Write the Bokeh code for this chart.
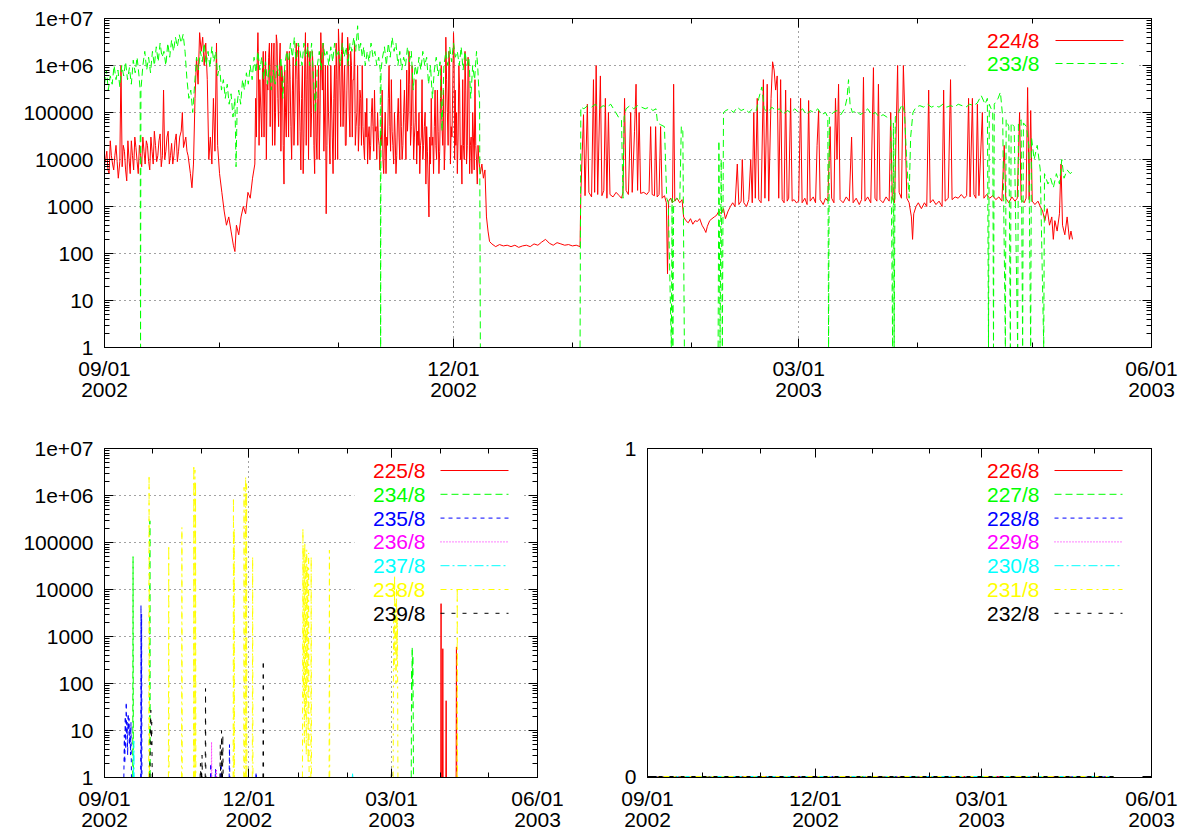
from bokeh.plotting import figure
from bokeh.models import (Range1d, FixedTicker, CustomJSTickFormatter, LinearAxis, LogAxis,
                          Label, Arrow, BoxAnnotation)
from bokeh.layouts import column, row
from bokeh.embed import file_html
from bokeh.resources import INLINE

NaN = float("nan")

# ---------------- axis ticks (days since 2002-09-01) ----------------
tick_days = [0, 91, 181, 273]
tick_labels = ["09/01\n2002", "12/01\n2002", "03/01\n2003", "06/01\n2003"]
month_days = [30, 61, 122, 153, 212, 242]
y_decades = [1, 10, 100, 1000, 10000, 100000, 1000000, 10000000]

# ---------------- top panel: 224/8 and 233/8 ----------------
red_224_main = [
    (0, 8000), (0.6, 15000), (1.2, 5000), (1.8, 12000), (2.4, 6000), (3, 20000), (3.6, 4000), (4.0, 9000),
    (4.3, 1e6), (4.6, 7000), (5.2, 15000), (5.8, 3500), (6.4, 10000), (7, 25000), (7.6, 6000), (8.2, 18000),
    (8.8, 5000), (9.4, 12000), (10, 30000), (10.6, 8000), (11.2, 20000), (11.8, 6000), (12.4, 15000),
    (13, 40000), (13.6, 9000), (14.2, 25000), (14.8, 7000), (15.4, 3e5), (15.7, 10000), (16.3, 30000),
    (16.9, 8000), (17.5, 22000), (18.1, 12000), (18.7, 35000), (19.3, 15000), (20.0, 40000), (20.3, 1e5),
    (20.6, 18000), (21.2, 30000), (21.8, 12000), (22.4, 5000), (22.8, 2500), (23.2, 8000),
    (23.6, 2e5), (24.0, 1.5e6), (24.4, 4e5), (24.8, 5e6), (25.2, 2e6), (25.6, 4e6), (26.0, 1e6), (26.4, 3e6),
    (26.8, 5e5), (27.2, 1e4), (27.6, 30000), (28.0, 8000), (28.4, 2e5), (28.8, 15000), (29.2, 3e6),
    (29.5, 20000), (30, 5000), (30.6, 2000), (31.2, 800), (31.8, 400), (32.4, 600), (33.0, 300), (33.6, 150),
    (34.0, 110), (34.4, 400), (35.0, 250), (35.6, 600), (36.2, 1000), (36.8, 700), (37.4, 2000), (38.0, 1500),
    (38.6, 4000), (39.2, 8000), (39.6, 3e4), (40.0, 5e6), (40.3, 2e4), (40.8, 1e5), (41.2, 8e5), (41.6, 3e4),
    (42.0, 2e6), (42.4, 4e5), (42.8, 1.5e6), (43.2, 5e4), (43.6, 3e6), (44.0, 1e6), (44.4, 2e4), (44.8, 4.5e6),
    (45.2, 2e5), (45.6, 1e6), (46.0, 1.5e4), (46.4, 6e5), (46.8, 3000), (47.2, 1e5), (47.6, 2e6), (48.0, 3e4),
    (48.4, 5e5), (48.8, 1e4), (49.2, 1.5e6), (49.6, 8e4), (50.0, 3e6), (50.4, 2e4), (50.8, 3e5), (51.2, 6000),
    (51.6, 1e6), (52.0, 3e4), (52.4, 5e6), (52.8, 5e5), (53.2, 1e4), (53.6, 2e6), (54.0, 1e5), (54.4, 8e5),
    (54.8, 5000), (55.2, 3e4), (55.6, 2e5), (56.0, 1e4), (56.4, 5e6), (56.8, 3e5), (57.2, 1.5e4), (57.6, 1e6),
    (57.8, 700), (58.0, 2e4), (58.4, 1e5), (58.8, 8000), (59.4, 3e4), (59.8, 2e5), (60.2, 1e4), (60.6, 5e5),
    (61.0, 6e6), (61.4, 3e5), (61.8, 2e6), (62.2, 5e4), (62.6, 1e6), (63.0, 2e4), (63.4, 4e6), (63.8, 1e5),
    (64.2, 2e6), (64.6, 3e4), (65.0, 5e5), (65.4, 2e4), (65.8, 1e5), (66.2, 1.5e4), (66.6, 3e5), (67.0, 2e4),
    (67.4, 5e4), (67.8, 1e4), (68.2, 3e4), (68.6, 8000), (69.0, 5e4), (69.4, 2e4), (69.8, 2e5), (70.2, 1.5e4),
    (70.6, 4e4), (71.0, 1e4), (71.4, 3e4), (71.8, 6000), (72.2, 2e4), (72.6, 1e4), (73.0, 3e4), (73.4, 5000),
    (73.8, 2e4), (74.2, 1e6), (74.6, 1.5e4), (75.0, 4e4), (75.4, 8000), (75.8, 3e4), (76.2, 1.2e4), (76.6, 2e5),
    (77.0, 1e4), (77.4, 5e4), (77.8, 2e4), (78.2, 3e5), (78.6, 1e4), (79.0, 4e4), (79.4, 2e6), (79.8, 2e4),
    (80.2, 1e6), (80.6, 1e4), (81.0, 6e4), (81.4, 8000), (81.8, 2e4), (82.2, 5000), (82.6, 3e4), (83.0, 1e4),
    (83.4, 5e4), (83.8, 3000), (84.2, 1.5e4), (84.6, 600), (85.0, 8000), (85.4, 2e4), (85.8, 5000), (86.2, 3e5),
    (86.6, 1e4), (87.0, 4e4), (87.4, 1.5e4), (87.8, 1e6), (88.2, 2e4), (88.6, 6000), (89.0, 4e6), (89.4, 1e5),
    (89.8, 2e6), (90.2, 8000), (90.6, 3e4), (91.0, 5e6), (91.3, 1e4), (91.6, 2e4), (92.0, 5000), (92.4, 1e6),
    (92.8, 1e4), (93.2, 3000), (93.6, 2e4), (94.0, 2e6), (94.4, 8000), (94.8, 1.5e6), (95.2, 5000), (95.6, 3e4),
    (96.0, 1e5), (96.4, 6000), (96.8, 2e4), (97.2, 3000), (97.6, 1e4), (98.0, 5000), (98.4, 8000), (98.8, 4000),
    (99.2, 6000), (99.6, 600), (100.0, 300), (100.4, 180),
    (101, 160), (102, 140), (103, 155), (104, 145), (105, 150), (106, 140), (107, 150), (108, 135), (109, 145),
    (110, 150), (111, 140), (112, 160), (113, 150), (114, 175), (115, 200), (116, 165), (117, 150), (118, 170),
    (119, 160), (120, 150), (121, 155), (122, 145), (123, 150), (124, 140),
    (124.2, 1800), (124.9, 9e4), (125.3, 1700), (125.9, 1.5e5), (126.3, 2000), (127.0, 1600), (127.5, 5e5),
    (127.8, 2000), (128.2, 1e6), (128.6, 1800), (129.3, 6e5), (129.7, 1700), (130.2, 2200), (130.6, 2e5),
    (131.0, 1500), (131.4, 1e5), (131.8, 1800), (132.6, 1600), (133.4, 2000), (134.2, 1700), (134.8, 1500),
    (135.2, 2000), (135.6, 2e5), (136.0, 2200), (136.6, 1800), (137.2, 1e5), (137.6, 2000), (138.2, 4e4),
    (138.6, 4e5), (139.0, 2200), (139.4, 1e5), (139.8, 1900), (140.6, 2000), (141.4, 1800), (142.0, 2100),
    (142.4, 5e4), (142.8, 1800), (143.4, 1700), (143.7, 5e4), (144.1, 1600), (144.6, 1800), (145.0, 5e4),
    (145.4, 1500), (146.0, 1700), (146.5, 1200), (146.8, 37), (147.1, 1300), (147.6, 1500), (148.1, 1200),
    (148.4, 4e5), (148.7, 1300), (149.3, 1500), (150.0, 1200), (150.6, 1400), (151.0, 600),
    (151.6, 500), (152.2, 450), (152.8, 550), (153.4, 420), (154.0, 500), (154.6, 480), (155.2, 550),
    (155.8, 400), (156.4, 330), (156.8, 280), (157.2, 380), (157.8, 500), (158.4, 550), (159.0, 600),
    (159.6, 650), (160.2, 800), (160.8, 700), (161.4, 900), (161.9, 550), (162.6, 800), (163.2, 1000),
    (163.8, 1200), (164.4, 1000), (165.0, 8000), (165.4, 1100), (166.0, 1300), (166.3, 1e4), (166.7, 1200),
    (167.4, 1000), (168.0, 1400), (168.5, 1e4), (168.9, 1200), (169.3, 1e5), (169.7, 1500), (170.2, 2e5),
    (170.6, 1400), (171.2, 1200), (171.8, 5e5), (172.2, 1500), (172.8, 4e5), (173.2, 1300), (173.8, 2e5),
    (174.2, 1.2e6), (174.6, 8e5), (175.0, 3e5), (175.4, 6e5), (175.8, 1500), (176.3, 5e5), (176.7, 1400),
    (177.2, 1200), (177.6, 3e5), (178.0, 1300), (178.4, 1500), (178.9, 2e5), (179.3, 1300), (179.8, 1400),
    (180.4, 1200), (181.0, 1300), (181.5, 2e5), (181.9, 1200), (182.6, 1500), (183.2, 1100), (183.6, 1.8e5),
    (184.0, 1300), (184.8, 1600), (185.4, 1200), (185.8, 2e4), (186.2, 1.1e5), (186.6, 1400), (187.4, 1100),
    (188.0, 1500), (188.6, 1300), (189.2, 5e4), (189.6, 1500), (190.2, 1200), (190.6, 2e5), (191.0, 1e4),
    (191.4, 4e5), (191.8, 1400), (192.6, 1200), (193.4, 1600), (194.2, 1300), (194.8, 3e4), (195.2, 1200),
    (196.0, 1500), (196.8, 1100), (197.4, 1400), (197.9, 5.6e5), (198.3, 1300), (199.0, 1600), (199.8, 1200),
    (200.5, 9e5), (200.9, 1500), (201.4, 1300), (201.8, 4e5), (202.2, 1400), (203.0, 1200), (203.8, 1600),
    (204.6, 1300), (205.0, 1e5), (205.4, 1500), (206.0, 1200), (206.8, 1e6), (207.2, 2000), (207.8, 1500),
    (208.3, 1e6), (208.7, 8e4), (209.2, 1500), (209.8, 1200), (210.4, 600), (210.7, 200), (211.0, 700),
    (211.6, 1000), (212.2, 1200), (213.0, 900), (213.8, 1200), (214.4, 1000), (214.9, 3e5), (215.3, 1200),
    (216.0, 1400), (216.8, 1100), (217.6, 1300), (218.4, 1000), (218.8, 3e5), (219.2, 1300), (220.0, 1500),
    (220.6, 5e5), (221.0, 1400), (221.8, 1600), (222.6, 1500), (223.4, 1800), (224.2, 1500), (224.8, 1700),
    (225.3, 2e5), (225.7, 1600), (226.3, 2e5), (226.7, 1800), (227.2, 1500), (227.6, 1.5e5), (228.0, 1700),
    (228.9, 1e5), (229.3, 1500), (230.0, 1800), (230.8, 1500), (231.6, 1700), (232.4, 1400), (233.2, 1600),
    (234.0, 1300), (234.6, 2e4), (235.0, 1500), (235.8, 1200), (236.6, 1600), (237.4, 1300), (238.0, 1500),
    (238.6, 1e5), (239.0, 1400), (239.8, 1200), (240.3, 1500), (240.7, 3.4e5), (241.1, 1400), (241.5, 1.1e5),
    (241.9, 1300), (242.6, 1100), (243.4, 1300), (244.0, 1000), (244.6, 800), (245.2, 500), (245.8, 900),
    (246.4, 400), (247.0, 600), (247.4, 200), (247.8, 500), (248.4, 300), (249.0, 700), (249.4, 8000),
    (249.8, 400), (250.4, 250), (251.0, 600), (251.6, 200), (252.0, 300), (252.4, 200),
]

# extra readings of the dense (noisy) stretches of 224/8
red_224_dense = [
    (0.3, 1e4), (0.9, 6000), (1.5, 25000), (2.1, 8000), (2.7, 12000), (3.3, 9000), (4.9, 20000), (5.5, 6000),
    (6.1, 25000), (6.7, 5000), (7.3, 12000), (7.9, 30000), (8.5, 9000), (9.1, 20000), (9.7, 7000),
    (10.3, 15000), (10.9, 25000), (11.5, 9000), (12.1, 30000), (12.7, 8000), (13.3, 20000), (13.9, 12000),
    (14.5, 35000), (15.1, 12000), (16.0, 15000), (16.6, 40000), (17.2, 12000), (17.8, 8000), (18.4, 25000),
    (19.0, 9000), (19.6, 30000), (21.5, 15000),
    (39.4, 2e5), (39.8, 1e6), (40.1, 2e6), (40.5, 5e5), (41.0, 3e4), (41.4, 2e6), (41.8, 5e5), (42.2, 1e4),
    (42.6, 3e5), (43.0, 3e6), (43.4, 1e6), (43.8, 2e4), (44.2, 3e6), (44.6, 1e5), (45.0, 3e6), (45.4, 5e4),
    (45.8, 3e6), (46.2, 1e6), (46.6, 2e4), (47.0, 8e5), (47.4, 3e4), (47.8, 4e5), (48.2, 2e6), (48.6, 5e4),
    (49.0, 3e5), (49.4, 2e4), (49.8, 1e6), (50.2, 5e5), (50.6, 3e6), (51.0, 4e4), (51.4, 2e5), (51.8, 5e3),
    (52.2, 1e6), (52.6, 2e4), (53.0, 3e6), (53.4, 1e6), (53.8, 3e4), (54.2, 2e6), (54.6, 2e4), (55.0, 1e6),
    (55.4, 1e4), (55.8, 1e6), (56.2, 1e5), (56.6, 1e6), (57.0, 3e6), (57.4, 1e5), (58.2, 1e6), (58.6, 3e4),
    (59.0, 1e6), (59.6, 5e3), (60.0, 1e6), (60.4, 3e6), (60.8, 1e4), (61.2, 2e6), (61.6, 5e4), (62.0, 5e6),
    (62.4, 3e5), (62.8, 2e4), (63.2, 3e5), (63.6, 2e6), (64.0, 3e4), (64.4, 1e6), (64.8, 5e5), (65.2, 3e6),
    (65.6, 5e4), (66.0, 1e6), (66.4, 5e4), (66.8, 2e5), (67.2, 1e6), (67.6, 2e4), (68.0, 1e5), (68.4, 2e5),
    (68.8, 3e4), (69.2, 1e4), (69.6, 1e5), (70.0, 5e4), (70.4, 3e5), (70.8, 5e4), (71.2, 1e5), (71.6, 2e4),
    (72.0, 4e4), (72.4, 3e5), (72.8, 5e3), (73.2, 1e5), (73.6, 3e4), (74.0, 2e5), (74.4, 5e4), (74.8, 5e5),
    (75.2, 2e4), (75.6, 1e5), (76.0, 5e3), (76.4, 8e4), (76.8, 3e4), (77.2, 5e5), (77.6, 1e4), (78.0, 1e5),
    (78.4, 6e4), (78.8, 8e5), (79.2, 1e5), (79.6, 4e5), (80.0, 5e4), (80.4, 3e5), (80.8, 3e4), (81.2, 5e5),
    (81.6, 4e4), (82.0, 1e5), (82.4, 2e4), (82.8, 5e5), (83.2, 2e4), (83.6, 1e5), (84.0, 5e4), (84.4, 3e3),
    (84.8, 3e4), (85.2, 2e5), (85.6, 3e4), (86.0, 5e4), (86.4, 2e4), (86.8, 3e5), (87.2, 5e3), (87.6, 2e5),
    (88.0, 5e4), (88.4, 3e5), (88.8, 2e4), (89.2, 5e5), (89.6, 2e4), (90.0, 1e6), (90.4, 5e4), (90.8, 3e5),
    (91.15, 2e6), (91.45, 3e5), (91.8, 1e5), (92.2, 3e4), (92.6, 3e5), (93.0, 2e4), (93.4, 5e5), (93.8, 1e4),
    (94.2, 3e5), (94.6, 2e4), (95.0, 8e5), (95.4, 2e4), (95.8, 5e3), (96.2, 3e4), (96.6, 5e5), (97.0, 1e4),
    (97.4, 2e4),
]

green_233 = [
    (0, 4e5), (0.5, 8e5), (1.0, 3e5), (1.5, 6e5), (2.0, 4e5), (2.5, 1e6), (3.0, 5e5), (3.5, 8e5), (4.0, 3.5e5),
    (4.5, 1e6), (5.0, 6e5), (5.5, 1.2e6), (6.0, 5e5), (6.5, 9e5), (7.0, 4e5), (7.5, 1.3e6), (8.0, 7e5),
    (8.5, 1.5e6), (9.0, 6e5), (9.3, 3e5), (9.4, 1), (9.5, 3e5),
    (10.0, 1e6), (10.5, 2e6), (11.0, 8e5), (11.5, 1.5e6), (12.0, 7e5), (12.5, 2e6), (13.0, 1e6), (13.5, 2.5e6),
    (14.0, 1.2e6), (14.5, 3e6), (15.0, 1.5e6), (15.5, 2e6), (16.0, 1e6), (16.5, 3e6), (17.0, 1.5e6),
    (17.5, 3.5e6), (18.0, 2e6), (18.5, 4e6), (19.0, 2.5e6), (19.5, 4.5e6), (20.0, 3e6), (20.5, 4.6e6),
    (21.0, 2e6), (21.5, 5e5), (22.0, 2e5), (22.5, 3e5), (23.0, 1e5), (23.5, 4e5),
    (24.0, 1.5e6), (24.5, 8e5), (25.0, 2e6), (25.5, 1.2e6), (26.0, 3e6), (26.5, 1e6), (27.0, 2e6), (27.5, 9e5),
    (28.0, 2.5e6), (28.5, 1.2e6), (29.0, 2e6), (29.5, 6e5), (30.0, 1e6),
    (30.5, 3e5), (31.0, 5e5), (31.5, 2e5), (32.0, 4e5), (32.5, 1.5e5), (33.0, 2.5e5), (33.5, 8e4), (34.0, 2e5),
    (34.3, 7000), (34.6, 1.5e5), (35.0, 3e5), (35.5, 1.5e5), (36.0, 5e5), (36.5, 3e5), (37.0, 7e5), (37.5, 4e5),
    (38.0, 1e6), (38.5, 5e5), (39.0, 1.5e6), (39.5, 7e5), (40.0, 2e6), (40.5, 8e5), (41.0, 1.5e6), (41.5, 5e5),
    (42.0, 1.2e6), (42.5, 4e5), (43.0, 1e6), (43.5, 3e5), (44.0, 8e5), (44.5, 4e5), (45.0, 1e6), (45.5, 6e5),
    (46.0, 1.5e6), (46.5, 2e5), (47.0, 1e6), (47.5, 2e6), (48.0, 1.2e6), (48.5, 3e6), (49.0, 1.5e6),
    (49.5, 4e6), (50.0, 1e6), (50.5, 3e6), (51.0, 2e6), (51.5, 1e6), (52.0, 3e6), (52.5, 1.5e6), (53.0, 2.5e6),
    (53.5, 1e6), (54.0, 3e6), (54.5, 5e5), (55.0, 1e5), (55.5, 1e6), (56.0, 2e6), (56.5, 8e5), (57.0, 3e6),
    (57.5, 1.5e6), (58.0, 2e6), (58.5, 1e6), (59.0, 2.5e6), (59.5, 1.2e6), (60.0, 3e6), (60.5, 1.5e6),
    (61.0, 2e6), (61.5, 1e6), (62.0, 3e6), (62.5, 1.5e6), (63.0, 2.5e6), (63.5, 1e6), (64.0, 3e6), (64.5, 2e6),
    (65.0, 4e6), (65.5, 2e6), (66.0, 7e6), (66.4, 2e6), (66.8, 3e6), (67.2, 1.5e6), (67.6, 2.5e6), (68.0, 1e6),
    (68.5, 2e6), (69.0, 1.2e6), (69.5, 3e6), (70.0, 1.5e6), (70.5, 2e6), (71.0, 1e6), (71.5, 1.5e6),
    (71.9, 8e5), (72.0, 1), (72.1, 8e5), (72.5, 1.5e6), (73.0, 2.5e6), (73.5, 1e6), (74.0, 3e6), (74.5, 1.5e6),
    (75.0, 4e6), (75.5, 2e6), (76.0, 3e6), (76.5, 1e6), (77.0, 2e6), (77.5, 8e5), (78.0, 1.5e6), (78.5, 1e6),
    (79.0, 2.5e6), (79.5, 1.2e6), (80.0, 2e6), (80.5, 3e5), (81.0, 1e6), (81.5, 6e5), (82.0, 1.5e6),
    (82.5, 8e5), (83.0, 2e6), (83.5, 1e6), (84.0, 1.5e6), (84.5, 4e5), (85.0, 1e6), (85.5, 2e5), (86.0, 8e5),
    (86.5, 1.5e6), (87.0, 6e5), (87.5, 1.2e6), (88.0, 4e4), (88.5, 1e6), (89.0, 2e6), (89.5, 1e6),
    (90.0, 2.5e6), (90.5, 1.2e6), (91.0, 3e6), (91.5, 1.5e6), (92.0, 2e6), (92.5, 1e6), (93.0, 2.5e6),
    (93.5, 8e5), (94.0, 2e6), (94.5, 1e6), (95.0, 1.5e6), (95.5, 2e5), (96.0, 1e6), (96.5, 5e5), (97.0, 2e6),
    (97.3, 1e6), (97.6, 3e5), (97.8, 2e5), (98.0, 1), (NaN, NaN),
    (124.0, 1), (124.2, 1.3e5), (125.0, 1.2e5), (126.0, 1.4e5), (127.0, 1.3e5), (128.0, 1.5e5),
    (129.0, 1.2e5), (130.0, 1.4e5), (131.0, 1.3e5), (132.0, 1.5e5), (133.0, 1.1e5), (134.0, 8e4),
    (134.8, 7e4), (135.2, 1500), (135.5, 8e4), (136.0, 1.2e5), (137.0, 1.4e5), (138.0, 1.2e5),
    (139.0, 1.4e5), (140.0, 1.3e5), (141.0, 1.2e5), (142.0, 1.3e5), (143.0, 1.1e5), (143.8, 1.2e5),
    (144.2, 6e4), (145.0, 5.5e4), (146.0, 5e4), (146.6, 1500), (147.0, 1200), (147.8, 1), (148.0, 1500),
    (148.2, 1), (148.4, 1300), (149.2, 1500), (150.0, 1300), (150.4, 5e4), (150.8, 4e4), (151.2, 1),
    (NaN, NaN),
    (160.0, 1), (160.2, 2.5e4), (160.5, 1), (160.8, 1e4), (161.1, 1), (161.4, 1e5), (162.0, 1.1e5),
    (163.0, 1.2e5), (164.0, 1e5), (165.0, 1.3e5), (166.0, 1.1e5), (167.0, 1.2e5), (168.0, 1e5),
    (169.0, 1.2e5), (170.0, 1.1e5), (170.6, 2e5), (171.4, 3.5e5), (172.0, 1.2e5), (173.0, 1e5),
    (174.0, 1.3e5), (175.0, 1.1e5), (176.0, 1.2e5), (177.0, 9e4), (178.0, 1.1e5), (179.0, 1e5),
    (180.0, 1.2e5), (181.0, 1e5), (182.0, 1.2e5), (183.0, 9e4), (184.0, 1.1e5), (185.0, 1e5), (186.0, 1.2e5),
    (187.0, 9e4), (188.0, 1e5), (188.6, 8e4), (188.8, 1), (189.0, 8e4), (190.0, 1e5), (191.0, 1.1e5),
    (192.0, 9e4), (193.0, 1.2e5), (193.6, 2e5), (194.0, 5e5), (194.4, 1.5e5), (195.0, 1e5), (196.0, 1.1e5),
    (197.0, 9e4), (198.0, 1e5), (199.0, 1.2e5), (200.0, 9e4), (201.0, 1e5), (202.0, 8e4), (203.0, 9e4),
    (204.0, 8e4), (205.0, 7e4), (205.5, 1), (205.7, 6e4), (205.9, 1), (206.2, 8e4), (207.0, 1e5),
    (208.0, 1.5e5), (208.6, 1e5), (209.2, 8000), (209.8, 1500), (210.2, 3e4), (210.8, 1e5), (211.6, 1.3e5),
    (212.6, 1.4e5), (213.6, 1.3e5), (214.6, 1.5e5), (215.6, 1.3e5), (216.6, 1.4e5), (217.6, 1.3e5),
    (218.6, 1.5e5), (219.6, 1.3e5), (220.6, 1.4e5), (221.6, 1.3e5), (222.6, 1.5e5), (223.6, 1.4e5),
    (224.6, 1.3e5), (225.6, 1.5e5), (226.6, 1.4e5), (227.6, 1.6e5), (228.6, 2.3e5), (229.6, 1.5e5),
    (230.2, 2e5), (230.5, 1), (230.7, 1.5e5), (231.6, 1e5), (231.8, 1), (232.0, 1.5e5), (233.0, 2e5),
    (233.6, 2.7e5), (234.2, 8e4), (234.9, 1), (235.1, 7e4), (235.8, 5e4), (236.2, 1), (236.4, 6e4),
    (237.2, 5e4), (238.1, 1), (238.3, 6e4), (239.0, 7e4), (239.4, 1), (239.6, 6e4), (240.4, 5e4),
    (241.0, 2e4), (241.5, 1), (241.7, 3e4), (242.4, 1e4), (243.2, 2e4), (244.0, 6000), (244.9, 1),
    (245.1, 5000), (246.0, 3000), (246.7, 4000), (247.4, 2500), (248.2, 5000), (249.0, 3000), (249.6, 1e4),
    (250.2, 4000), (251.0, 6000), (251.8, 5000), (252.4, 5500),
]

# ---------------- bottom-left panel: sparse spikes (single peaks or bursts) ----------------
bl_225 = [(212.2, 5000), (213.3, 550), (215.4, 43), (221.9, 600)]
bl_234 = [(18.0, 5e4), (28.6, 2.9e5),
          [(193.4, 1), (193.6, 200), (193.8, 30), (194.0, 600), (194.2, 100), (194.4, 400), (194.6, 50), (194.8, 1)]]
bl_235 = [[(12.2, 1), (12.5, 8), (12.8, 2), (13.1, 20), (13.4, 4), (13.7, 40), (14.0, 8), (14.3, 15), (14.6, 3),
           (14.9, 23), (15.2, 10), (15.5, 18), (15.8, 5), (16.1, 12), (16.4, 3), (16.7, 15), (17.0, 1)],
          [(22.8, 1), (23.0, 4600), (23.2, 1), (23.4, 3000), (23.6, 1)],
          (67.0, 2), (70.0, 1.5), (73.5, 2), (78.8, 5), (95.6, 1.3)]
bl_236 = [(67.5, 5.7), (70.5, 1.5)]
bl_237 = [(18.5, 6), (156.4, 1.2)]
bl_238 = [(28.1, 2.7e6), (40.5, 8.7e4), (48.8, 2.1e5), (56.3, 4.4e6), (57.0, 3.5e6), (57.4, 2e6),
          (81.3, 9e5), (81.8, 2e5), (88.0, 1.5e6), (89.0, 2.5e6), (89.6, 1.8e6), (93.4, 5e4),
          [(124.8, 1), (125.1, 2e5), (125.4, 50), (125.7, 8e4), (126.0, 5), (126.3, 1e5), (126.6, 20),
           (126.9, 5e4), (127.2, 3), (127.5, 7e4), (127.8, 100), (128.1, 3e4), (128.4, 2), (128.7, 6e4), (129.0, 1)],
          (130.3, 5e4), (141.8, 6.9e4),
          [(182.0, 1), (182.3, 3000), (182.6, 200), (182.9, 2e4), (183.2, 500), (183.5, 5000), (183.8, 100),
           (184.1, 1e4), (184.4, 300), (184.7, 2600), (185.0, 1)],
          (222.4, 1.1e4)]
bl_239 = [[(28.6, 1), (28.9, 8), (29.2, 27), (29.5, 5), (29.8, 15), (30.1, 1)],
          (60.5, 2), (61.5, 3), (63.7, 78), (73.0, 5), (73.8, 10), (74.6, 8), (100.1, 316), (181.0, 1.5)]

# ---------------- bottom-right panel: all-zero series ----------------
br_days = [0, 252.4]
br_vals = [0, 0]

# ---------------- styles ----------------
FONT = "Liberation Sans"
FS = "21px"
COL = ["#ff0000", "#00ff00", "#0000ff", "#ff00ff", "#00ffff", "#ffff00", "#000000"]
DASH = ["solid", "7 4", "4 4", "1 2", "9 3 2 3", "6 4 2 4", "4 7"]


def split(pts):
    return [p[0] for p in pts], [p[1] for p in pts]


def bursts_xy(bursts):
    xs, ys = [], []
    for b in bursts:
        pts = [(b[0] - 0.2, 1), b, (b[0] + 0.2, 1)] if isinstance(b, tuple) else b
        for d, v in pts:
            xs.append(d)
            ys.append(v)
        xs.append(NaN)
        ys.append(NaN)
    return xs, ys


xfmt = CustomJSTickFormatter(args=dict(pos=tick_days, lab=tick_labels),
                             code="const i = pos.indexOf(tick); return i >= 0 ? lab[i] : '';")
logfmt = CustomJSTickFormatter(code="""
const e = Math.round(Math.log10(tick));
return e >= 6 ? '1e+0' + e : String(Math.round(tick));
""")
blank = CustomJSTickFormatter(code="return '';")


def style_axis(ax, show):
    ax.major_tick_in = 9
    ax.major_tick_out = 0
    ax.minor_tick_in = 5
    ax.minor_tick_out = 0
    ax.axis_line_color = "black"
    ax.major_tick_line_color = "black"
    ax.minor_tick_line_color = "black"
    ax.major_label_text_font = FONT
    ax.major_label_text_color = "black"
    if show:
        ax.major_label_text_font_size = FS
    else:
        ax.major_label_text_font_size = "0px"
        ax.major_label_standoff = 0


def make_fig(w, h, bl, br, bt, bb, log):
    kw = dict(width=w, height=h, min_border_left=bl, min_border_right=br, min_border_top=bt,
              min_border_bottom=bb, output_backend="svg", toolbar_location=None,
              x_range=Range1d(0, 273))
    if log:
        p = figure(y_axis_type="log", y_range=Range1d(1, 1e7), **kw)
        yt = FixedTicker(ticks=y_decades,
                         minor_ticks=[m * d for d in y_decades[:-1] for m in range(2, 10)])
        yf = logfmt
    else:
        p = figure(y_range=Range1d(-0.003, 1), **kw)
        yt = FixedTicker(ticks=[0, 1], minor_ticks=[])
        yf = CustomJSTickFormatter(code="return String(Math.round(tick));")
    xt = FixedTicker(ticks=tick_days, minor_ticks=month_days)
    p.xaxis.ticker = xt
    p.xaxis.formatter = xfmt
    p.xaxis.major_label_standoff = 9
    p.xaxis.major_label_text_line_height = 0.95
    p.yaxis.ticker = yt
    p.yaxis.formatter = yf
    p.yaxis.major_label_standoff = 11
    style_axis(p.xaxis[0], True)
    style_axis(p.yaxis[0], True)
    top = LinearAxis(ticker=xt, formatter=blank)
    right = (LogAxis if log else LinearAxis)(ticker=yt, formatter=blank)
    style_axis(top, False)
    style_axis(right, False)
    p.add_layout(top, "above")
    p.add_layout(right, "right")
    p.outline_line_color = "black"
    p.outline_line_width = 1
    p.background_fill_color = "white"
    p.border_fill_color = "white"
    if log:
        p.xgrid.ticker = xt
        p.ygrid.ticker = yt
        for g in (p.xgrid[0], p.ygrid[0]):
            g.grid_line_color = "#444444"
            g.grid_line_dash = "1 4"
            g.grid_line_width = 1
    else:
        p.grid.visible = False
    return p


def add_legend(p, names, frame_h, text_right, lx0, lx1, row0, step, box=None):
    if box is not None:
        p.add_layout(BoxAnnotation(left=box[0], right=box[1], top=frame_h - box[2], bottom=frame_h - box[3],
                                   left_units="screen", right_units="screen", top_units="screen",
                                   bottom_units="screen", fill_color="white", fill_alpha=1.0,
                                   line_color=None, level="underlay"))
    for i, name in enumerate(names):
        y = frame_h - (row0 + i * step)
        p.add_layout(Label(x=text_right, y=y, x_units="screen", y_units="screen", text=name,
                           text_align="right", text_baseline="middle", text_color=COL[i],
                           text_font=FONT, text_font_size=FS))
        p.add_layout(Arrow(start=None, end=None, x_start=lx0, y_start=y, x_end=lx1, y_end=y,
                           start_units="screen", end_units="screen", line_color=COL[i],
                           line_dash=DASH[i], line_width=1))


FH = 329

# top panel
p1 = make_fig(1183, 420, 104, 32, 18, 73, True)
red_224 = sorted(red_224_main + red_224_dense, key=lambda t: t[0])
rx, ry = split(red_224)
gx, gy = split(green_233)
p1.line(rx, ry, line_color=COL[0], line_width=1)
p1.line(gx, gy, line_color=COL[1], line_width=1, line_dash=DASH[1])
add_legend(p1, ["224/8", "233/8"], FH, 935, 951, 1019, 22, 23, box=(861, 1033, 10, 57))

# bottom-left panel
p2 = make_fig(565, 415, 104, 28, 28, 58, True)
bl_series = [bl_225, bl_234, bl_235, bl_236, bl_237, bl_238, bl_239]
for i, s in enumerate(bl_series):
    xs, ys = bursts_xy(s)
    p2.line(xs, ys, line_color=COL[i], line_width=1, line_dash=DASH[i])
add_legend(p2, ["225/8", "234/8", "235/8", "236/8", "237/8", "238/8", "239/8"], FH, 321, 336, 404, 22, 23.8,
           box=(250, 418, 10, 176))

# bottom-right panel
p3 = make_fig(618, 415, 82, 32, 28, 58, False)
for i in range(7):
    p3.line(br_days, br_vals, line_color=COL[i], line_width=1, line_dash=DASH[i])
add_legend(p3, ["226/8", "227/8", "228/8", "229/8", "230/8", "231/8", "232/8"], FH, 392, 407, 475, 22, 23.8)

layout = column(p1, row(p2, p3, spacing=0), spacing=0)
open("out.html", "w").write(file_html(layout, INLINE))
